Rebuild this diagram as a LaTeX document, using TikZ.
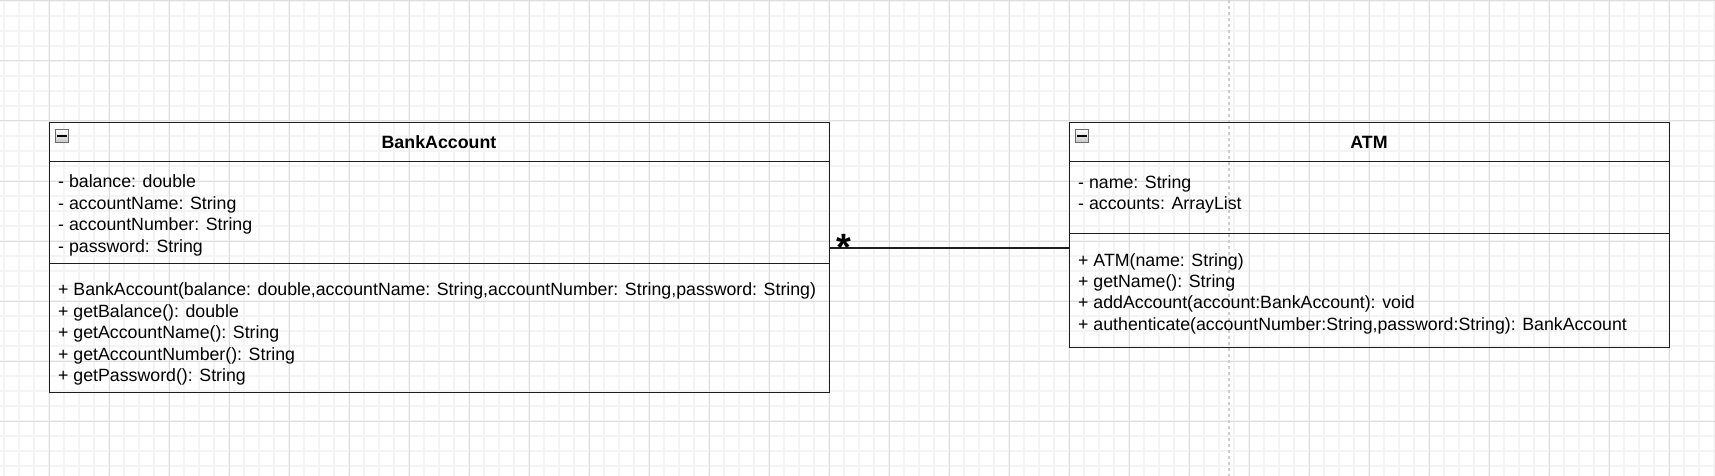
\documentclass[tikz,border=0pt]{standalone}
\usepackage{fontspec}
\setmainfont{Liberation Sans}
\definecolor{gridminor}{RGB}{244,244,244}
\definecolor{gridmajor}{RGB}{222,222,222}
\definecolor{pageline}{RGB}{205,205,205}
\definecolor{boxline}{RGB}{30,30,30}
\begin{document}
\begin{tikzpicture}[x=1pt,y=-1pt,
  minorline/.style={draw=gridminor, line width=1.5pt},
  majorline/.style={draw=gridmajor, line width=1pt},
  comp/.style={draw=boxline, line width=1.3pt, rectangle, inner sep=0pt, anchor=north west},
  txt/.style={anchor=base west, inner sep=0pt, font=\fontsize{17.75}{21.6}\selectfont},
  ttl/.style={anchor=base, inner sep=0pt, font=\fontsize{17.8}{21.6}\selectfont\bfseries},
  iconbox/.style={draw=gray!85!black, rectangle, minimum size=13pt, inner sep=0pt, top color=white, bottom color=gray!45, line width=0.8pt},
  conn/.style={draw=boxline, line width=1.3pt},
]
\useasboundingbox (0,0) rectangle (1715,476);
\fill[white] (0,0) rectangle (1715,476);
% grid
\foreach \x in {4,19,...,1714} \draw[minorline] (\x,0) -- (\x,476);
\foreach \y in {1,16,...,476} \draw[minorline] (0,\y) -- (1715,\y);
\foreach \x in {49,109,...,1714} \draw[majorline] (\x,0) -- (\x,476);
\foreach \y in {1,61,...,476} \draw[majorline] (0,\y) -- (1715,\y);
% page break line
\draw[pageline, line width=1.5pt, dash pattern=on 3pt off 3pt] (1229,0) -- (1229,476);

% BankAccount class
\node[comp, minimum width=780pt, minimum height=39pt] (baT) at (49,122) {};
\node[comp, minimum width=780pt, minimum height=102pt] (baA) at (49,161) {};
\node[comp, minimum width=780pt, minimum height=129pt] (baM) at (49,263) {};
\node[iconbox] (baI) at (62,136) {};
\draw[line width=1.6pt] ([xshift=1.8pt]baI.west) -- ([xshift=-1.8pt]baI.east);
\node[ttl] (baN) at (439,149) {BankAccount};
\foreach \t [count=\i from 0] in {{- balance: double},{- accountName: String},{- accountNumber: String},{- password: String}}
  \node[txt] (baa\i) at (58,{187.6+21.6*\i}) {\t};
\foreach \t [count=\i from 0] in {{+ BankAccount(balance: double,accountName: String,accountNumber: String,password: String)},{+ getBalance(): double},{+ getAccountName(): String},{+ getAccountNumber(): String},{+ getPassword(): String}}
  \node[txt] (bam\i) at (58,{295.6+21.5*\i}) {\t};

% ATM class
\node[comp, minimum width=600pt, minimum height=39pt] (atT) at (1069,122) {};
\node[comp, minimum width=600pt, minimum height=72pt] (atA) at (1069,161) {};
\node[comp, minimum width=600pt, minimum height=114pt] (atM) at (1069,233) {};
\node[iconbox] (atI) at (1082,136) {};
\draw[line width=1.6pt] ([xshift=1.8pt]atI.west) -- ([xshift=-1.8pt]atI.east);
\node[ttl] (atN) at (1369,149) {ATM};
\foreach \t [count=\i from 0] in {{- name: String},{- accounts: ArrayList}}
  \node[txt] (ata\i) at (1078,{188+21*\i}) {\t};
\foreach \t [count=\i from 0] in {{+ ATM(name: String)},{+ getName(): String},{+ addAccount(account:BankAccount): void},{+ authenticate(accountNumber:String,password:String): BankAccount}}
  \node[txt] (atm\i) at (1078,{266.7+21.1*\i}) {\t};

% association
\coordinate (cy) at (0,248);
\draw[conn] (baA.east |- cy) -- (atM.west |- cy);
\node[anchor=base, inner sep=0pt, font=\fontsize{38}{38}\selectfont\bfseries] (mult) at (844,260) {*};
\end{tikzpicture}
\end{document}
